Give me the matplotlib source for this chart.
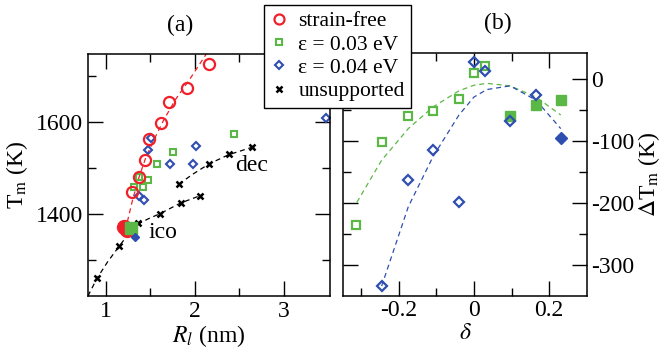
import numpy as np
import matplotlib
matplotlib.use("Agg")
import matplotlib.pyplot as plt

plt.rcParams['font.family'] = ['Liberation Serif', 'DejaVu Serif']
plt.rcParams['mathtext.fontset'] = 'stix'
plt.rcParams['font.size'] = 17

# ---- panel (a) data ----
red_R = [1.30, 1.37, 1.44, 1.49, 1.62, 1.71, 1.91, 2.16]
red_T = [1449, 1480, 1517, 1563, 1599, 1643, 1674, 1727]
red_fill_R = [1.21, 1.24]
red_fill_T = [1372, 1366]
red_line_R = [1.22, 1.30, 1.37, 1.45, 1.55, 1.65, 1.78, 1.95, 2.13]
red_line_T = [1365, 1430, 1478, 1523, 1565, 1604, 1648, 1695, 1748]

green_R = [1.32, 1.37, 1.42, 1.48, 1.58, 1.75, 2.44]
green_T = [1459, 1481, 1459, 1474, 1509, 1534, 1575]
green_fill_R = [1.28]
green_fill_T = [1370]

blue_R = [1.51, 1.48, 1.72, 2.01, 1.98, 1.37, 1.43, 3.47]
blue_T = [1565, 1540, 1509, 1549, 1509, 1440, 1430, 1608]
blue_fill_R = [1.33]
blue_fill_T = [1351]

unsup_R = [0.90, 1.15, 1.36, 1.61, 1.84, 2.06, 1.82, 2.16, 2.38, 2.64]
unsup_T = [1262, 1330, 1381, 1400, 1425, 1440, 1465, 1509, 1530, 1545]
ico_line_R = [0.80, 0.90, 1.02, 1.15, 1.26, 1.36, 1.48, 1.61, 1.84, 2.06]
ico_line_T = [1222, 1260, 1296, 1330, 1358, 1378, 1390, 1401, 1424, 1440]
dec_line_R = [1.82, 1.98, 2.16, 2.38, 2.64]
dec_line_T = [1465, 1487, 1509, 1529, 1545]

# ---- panel (b) data ----
g_delta = [-0.313, -0.246, -0.175, -0.109, -0.039, 0.0, 0.028]
g_dT = [-236, -101, -60, -52, -32, 9, 21]
g_fill_delta = [0.096, 0.165, 0.231]
g_fill_dT = [-60, -42, -34]
g_line_delta = [-0.312, -0.246, -0.175, -0.109, -0.04, 0.0, 0.034, 0.096, 0.165, 0.231]
g_line_dT = [-199, -131, -80, -45, -19, -10, -7, -11, -29, -58]

b_delta = [-0.246, -0.175, -0.109, -0.040, 0.0, 0.028, 0.096, 0.165]
b_dT = [-334, -163, -114, -199, 28, 13, -68, -25]
b_fill_delta = [0.231]
b_fill_dT = [-95]
b_line_delta = [-0.246, -0.175, -0.109, -0.04, 0.0, 0.034, 0.096, 0.165, 0.231]
b_line_dT = [-334, -206, -125, -58, -29, -17, -11, -34, -80]

RED = '#f0202a'
GREEN = '#5cb846'
BLUE = '#2f4fb0'

fig = plt.figure(figsize=(6.63, 3.5), dpi=100)
ax1 = fig.add_axes([0.1327, 0.1543, 0.365, 0.6914])
ax2 = fig.add_axes([0.5173, 0.1543, 0.3681, 0.6943])

# panel (a)
ax1.plot(red_line_R, red_line_T, '--', color=RED, lw=0.9, dashes=(4, 3))
ax1.plot(ico_line_R, ico_line_T, '--', color='black', lw=0.9, dashes=(4, 3))
ax1.plot(dec_line_R, dec_line_T, '--', color='black', lw=0.9, dashes=(4, 3))
h_unsup, = ax1.plot(unsup_R, unsup_T, 'x', color='black', ms=5, mew=1.8)
h_green, = ax1.plot(green_R, green_T, 's', mfc='none', mec=GREEN, ms=5, mew=1.5)
h_blue, = ax1.plot(blue_R, blue_T, 'D', mfc='none', mec=BLUE, ms=4.5, mew=1.5)
h_red, = ax1.plot(red_R, red_T, 'o', mfc='none', mec=RED, ms=8, mew=1.6)
ax1.plot(red_fill_R, red_fill_T, 'o', color=RED, ms=10)
ax1.plot(green_fill_R, green_fill_T, 's', color=GREEN, ms=8)
ax1.plot(blue_fill_R, blue_fill_T, 'D', color=BLUE, ms=4.5)
ax1.text(1.64, 1361, 'ico', ha='center', va='center', fontsize=17)
ax1.text(2.64, 1505, 'dec', ha='center', va='center', fontsize=17)

ax1.set_xlim(0.80, 3.52)
ax1.set_ylim(1222, 1748)
ax1.set_xticks([1, 2, 3])
ax1.set_xticks([1.5, 2.5], minor=True)
ax1.set_yticks([1400, 1600])
ax1.set_yticks([1300, 1500, 1700], minor=True)
ax1.set_xlabel(r'$R_l$ (nm)', labelpad=1)
ax1.set_ylabel(r'T$_{\mathrm{m}}$ (K)', labelpad=4)
ax1.text(0.38, 1.12, '(a)', transform=ax1.transAxes, ha='center', va='center', fontsize=17)

# panel (b)
ax2.plot(g_line_delta, g_line_dT, '--', color=GREEN, lw=0.9, dashes=(4, 3))
ax2.plot(b_line_delta, b_line_dT, '--', color=BLUE, lw=0.9, dashes=(4, 3))
ax2.plot(g_delta, g_dT, 's', mfc='none', mec=GREEN, ms=5.5, mew=1.6)
ax2.plot(g_fill_delta, g_fill_dT, 's', color=GREEN, ms=7)
ax2.plot(b_delta, b_dT, 'D', mfc='none', mec=BLUE, ms=5, mew=1.6)
ax2.plot(b_fill_delta, b_fill_dT, 'D', color=BLUE, ms=6)

ax2.set_xlim(-0.349, 0.301)
ax2.set_ylim(-350, 42)
ax2.set_xticks([-0.2, 0, 0.2])
ax2.set_xticklabels(['-0.2', '0', '0.2'])
ax2.set_xticks([-0.3, -0.1, 0.1], minor=True)
ax2.set_yticks([0, -100, -200, -300])
ax2.set_yticklabels(['0', '-100', '-200', '-300'])
ax2.set_yticks([-50, -150, -250], minor=True)
ax2.yaxis.set_label_position('right')
ax2.set_xlabel(r'$\delta$', labelpad=1)
ax2.set_ylabel(r'$\Delta$T$_{\mathrm{m}}$ (K)', rotation=90, labelpad=1)
ax2.text(0.635, 1.12, '(b)', transform=ax2.transAxes, ha='center', va='center', fontsize=17)

for ax in (ax1, ax2):
    ax.tick_params(which='both', direction='in', top=True, right=True, width=1, labelsize=17)
    ax.tick_params(which='major', length=11)
    ax.tick_params(which='minor', length=6)
    for s in ax.spines.values():
        s.set_linewidth(1.1)
ax2.tick_params(which='both', labelleft=False, labelright=True, pad=3)

leg = fig.legend([h_red, h_green, h_blue, h_unsup],
                 ['strain-free', r'ε = 0.03 eV', r'ε = 0.04 eV', 'unsupported'],
                 loc='upper left', bbox_to_anchor=(0.398, 0.986), borderaxespad=0,
                 fontsize=15.5, fancybox=False, framealpha=1, edgecolor='black',
                 handlelength=0.8, handletextpad=0.5, labelspacing=0.15, borderpad=0.3,
                 markerscale=0.9)
leg.get_frame().set_linewidth(1)

fig.savefig('out.png', dpi=100)
